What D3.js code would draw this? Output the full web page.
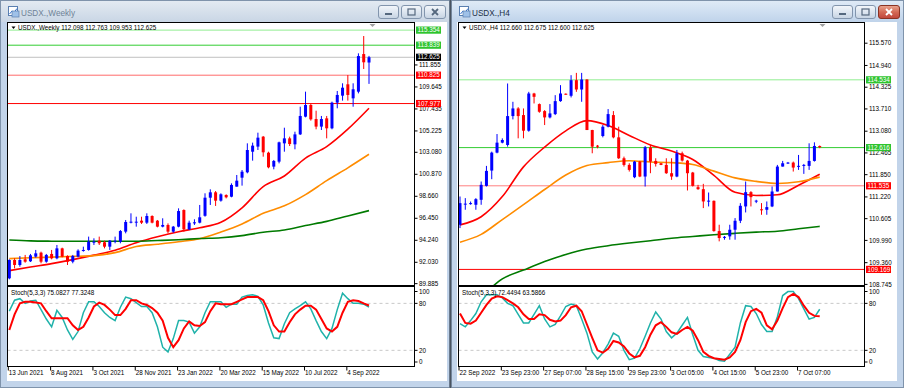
<!DOCTYPE html>
<html><head><meta charset="utf-8">
<script src="https://cdn.jsdelivr.net/npm/d3@7/dist/d3.min.js"></script>
<style>
html,body{margin:0;padding:0;background:#c7d6e8;overflow:hidden;}
svg text{font-family:"Liberation Sans",Arial,"DejaVu Sans",sans-serif;}
</style></head>
<body><svg id="c" width="904" height="388"></svg>
<script>
// ================= DATA: Weekly =================
const wTitle = "USDX.,Weekly";
const wHeader = "USDX.,Weekly  112.098 112.763 109.953 112.625";
const wStochHeader = "Stoch(5,3,3) 75.0827 77.3248";
const wTimeLabels = ["13 Jun 2021","8 Aug 2021","3 Oct 2021","28 Nov 2021","23 Jan 2022","20 Mar 2022","15 May 2022","10 Jul 2022","4 Sep 2022"];
const wOpen  = [90.42,92.26,91.76,92.33,92.13,92.60,93.00,92.09,92.87,92.43,93.43,92.66,92.09,92.60,93.20,93.27,94.05,94.20,94.04,93.60,94.15,94.10,95.11,96.05,96.08,96.21,96.01,96.68,96.21,95.61,95.78,95.11,95.61,97.28,95.34,95.94,96.01,96.70,98.52,99.06,98.22,98.79,98.62,99.63,100.53,101.07,103.14,103.65,104.65,103.04,101.64,102.14,103.98,104.48,103.88,104.88,106.66,107.83,106.42,105.66,106.49,105.49,108.07,108.77,109.91,108.50,109.17,112.95,112.098];
const wHigh  = [92.33,92.43,92.66,92.77,92.87,93.27,93.10,92.87,93.27,93.77,93.50,92.73,92.77,93.33,93.60,94.61,94.44,94.61,94.20,94.27,94.61,95.27,96.28,96.95,96.61,96.61,96.95,96.75,96.28,96.45,95.94,95.68,97.45,97.35,96.21,96.35,97.79,98.96,99.36,99.19,98.96,98.86,99.96,100.80,101.30,103.98,104.05,105.05,104.72,103.14,102.31,104.15,105.55,104.65,105.15,107.66,109.17,107.93,107.26,106.73,106.73,108.17,109.24,110.01,110.84,110.01,113.02,114.76,112.763];
const wLow   = [90.32,91.42,91.59,91.99,92.06,92.50,91.93,91.99,92.33,92.33,92.53,91.76,91.93,92.53,93.10,93.20,93.77,93.77,93.43,93.27,93.94,93.94,94.94,95.94,95.61,95.88,95.88,95.94,95.54,95.54,94.94,95.00,95.54,95.11,95.27,95.78,95.94,96.61,97.79,97.69,98.12,98.45,98.56,99.63,99.73,100.97,102.24,103.31,102.64,101.47,101.37,101.97,103.14,103.71,103.38,104.82,106.59,106.26,105.39,105.32,104.48,105.39,107.50,108.27,108.27,107.66,109.00,111.45,109.953];
const wClose = [92.26,91.76,92.26,92.09,92.73,92.93,92.09,92.77,92.43,93.43,92.60,92.09,92.66,93.20,93.27,94.10,94.10,93.94,93.60,94.20,94.20,95.17,96.08,96.11,96.11,96.01,96.68,96.01,95.61,95.78,95.11,95.61,97.18,95.34,96.01,96.05,96.55,98.52,99.06,98.22,98.86,98.56,99.80,100.23,101.13,103.31,103.75,104.55,103.08,101.57,102.21,104.08,104.48,103.91,104.88,106.73,107.83,106.39,105.66,106.42,105.49,108.07,108.84,109.57,108.84,109.41,112.75,112.12,112.625];
// moving averages read every 4 bars
const wMaIndex  = [0,4,8,12,16,20,24,28,32,36,40,44,48,52,56,60,64,68];
const wMaFast   = [91.19,91.55,91.90,92.30,92.75,93.25,94.00,94.60,95.10,95.50,96.05,97.50,99.63,100.70,102.50,103.65,105.40,107.50];
const wMaMid    = [92.40,92.48,92.55,92.62,92.70,93.00,93.62,93.85,94.10,94.40,95.07,95.88,96.95,97.70,98.83,100.23,101.52,102.88];
const wMaSlow   = [94.27,94.18,94.15,94.14,94.14,94.14,94.15,94.22,94.30,94.42,94.50,94.71,95.05,95.28,95.72,96.14,96.69,97.22];
const wStochK = [70,84,86,80,83,84,72,60,50,71,62,46,34,44,68,82,82,76,68,62,58,75,88,86,81,76,76,68,50,24,18,35,58,58,56,42,50,68,82,82,82,75,79,79,88,90,91,89,78,55,36,35,54,68,73,77,82,73,58,44,35,48,72,93,86,80,80,79,75.08];
const wStochD = [46,66,80,82,82,81,80,70,61,61,61,61,52,46,50,62,76,81,78,72,65,65,73,84,84,80,78,74,68,58,36,24,33,48,57,52,51,56,70,80,79,79,79,82,85,88,88,88,84,70,52,44,44,56,66,72,77,77,72,60,48,44,50,68,82,84,83,80,77.32];
const wPriceTicks = [111.855,109.645,107.435,105.225,103.080,100.870,98.660,96.450,94.240,92.030,89.885];
const wLevels = [115.354,113.839,112.625,110.825,107.977];

// ================= DATA: H4 =================
const hTitle = "USDX.,H4";
const hHeader = "USDX.,H4  112.660 112.675 112.600 112.625";
const hStochHeader = "Stoch(5,3,3) 72.4494 63.5866";
const hTimeLabels = ["22 Sep 2022","23 Sep 23:00","27 Sep 07:00","28 Sep 15:00","29 Sep 23:00","3 Oct 05:00","4 Oct 15:00","5 Oct 23:00","7 Oct 07:00"];
const hOpen  = [110.433,111.02,111.03,110.998,111.139,111.533,111.966,112.474,112.756,112.69,113.508,113.724,113.536,113.094,114.147,113.847,113.649,113.470,113.564,113.931,114.14,114.082,114.524,114.260,114.542,113.113,112.67,112.944,113.207,113.536,112.906,112.314,112.126,111.778,112.220,111.797,112.624,112.239,112.173,112.126,111.891,111.797,112.455,112.248,111.910,111.496,111.440,111.10,111.110,110.254,110.075,110.104,110.292,110.546,110.951,111.355,111.10,110.87,110.857,110.951,111.374,112.079,112.18,112.192,112.09,112.12,112.098,112.239,112.660];
const hHigh  = [111.232,111.186,111.09,111.186,111.656,112.098,112.502,113.000,112.878,114.43,113.912,113.76,113.724,114.194,114.166,113.865,113.677,113.847,114.100,114.383,114.15,114.665,114.730,114.730,114.55,113.12,112.69,113.254,113.706,113.649,113.207,112.361,112.173,112.239,112.24,112.662,112.690,112.314,112.18,112.314,112.314,112.549,112.502,112.267,111.928,111.562,111.590,111.345,111.12,110.433,110.114,110.433,110.621,111.045,111.656,111.383,111.139,111.045,111.092,111.515,112.126,112.239,112.21,112.220,112.408,112.154,112.737,112.765,112.675];
const hLow   = [110.339,110.857,111.0,110.857,110.998,111.515,111.722,112.455,112.737,112.643,113.414,112.878,112.878,113.066,113.865,113.602,113.254,113.442,113.536,113.912,114.11,114.035,114.194,113.912,113.113,112.455,112.596,112.906,113.188,112.878,112.295,112.079,111.938,111.750,111.78,111.515,111.891,112.079,112.12,111.872,111.703,111.778,112.220,111.402,111.515,111.421,110.904,110.951,110.236,109.963,110.010,110.010,110.010,110.480,110.781,110.951,111.045,110.715,110.715,110.932,111.374,112.079,112.154,111.938,111.985,111.872,111.985,112.220,112.600];
const hClose = [111.045,111.03,111.045,111.157,111.562,111.957,112.474,112.756,112.831,113.508,113.724,113.508,113.094,114.147,114.053,113.630,113.470,113.583,113.931,114.147,114.13,114.524,114.260,114.542,113.113,112.643,112.65,113.207,113.564,112.906,112.314,112.126,111.985,112.220,111.797,112.624,112.220,112.154,112.126,111.891,111.797,112.455,112.248,111.891,111.533,111.440,111.092,111.115,110.254,110.057,110.09,110.292,110.546,110.969,111.355,111.214,111.115,110.85,110.932,111.374,112.079,112.173,112.192,112.051,112.10,112.126,112.239,112.662,112.625];
const hMaIndex = [0,4,8,12,16,20,24,28,32,36,40,44,48,52,56,60,64,68];
const hMaFast  = [110.43,110.66,111.23,112.07,112.63,113.09,113.38,113.24,112.96,112.69,112.52,112.28,111.83,111.35,111.26,111.28,111.55,111.86];
const hMaMid   = [109.94,110.16,110.58,111.00,111.43,111.84,112.11,112.19,112.245,112.21,112.19,112.14,111.95,111.76,111.66,111.60,111.65,111.78];
const hMaSlow  = [107.90,108.40,108.90,109.15,109.39,109.59,109.745,109.84,109.915,109.98,110.05,110.10,110.15,110.19,110.225,110.25,110.32,110.386];
const hStochK = [54,50,58,67,82,91,91,91,87,80,77,66,55,55,66,77,60,50,53,64,76,79,77,60,42,18,9,17,28,42,38,20,8,10,22,38,55,69,60,44,36,42,52,62,40,20,12,11,10,7,6,15,24,55,77,76,67,53,44,44,63,90,95,95,86,73,60,62,72.45];
const hStochD = [67,55,54,58,68,78,86,89,88,84,80,75,66,60,60,66,65,59,57,58,65,75,77,70,53,36,20,17,22,32,30,25,16,11,13,24,40,52,56,50,43,41,46,50,45,33,18,13,10,9,8,11,18,33,56,70,73,68,52,47,58,74,88,92,88,77,68,64,63.59];
const hPriceTicks = [115.570,114.940,114.325,113.710,113.080,112.465,111.850,111.220,110.605,109.990,109.360,108.745];
const hLevels = [114.534,112.616,111.535,109.169];

const stochTicks = [100,80,20,0];
const stochLevels = [80,20];

// ================= STYLES =================
const BULL = "#0000ff", BEAR = "#ff0000";
const MA_COLORS = ["#ff0000","#ff8c00","#007a00"];
const K_COLOR = "#20b2aa", D_COLOR = "#ff0000";
const wLevelStyle = [
  {line:"#90ee90", bg:"#2ec42e"},
  {line:"#32cd32", bg:"#2ec42e"},
  {line:"#c0c0c0", bg:"#000000"},
  {line:"#ff6a6a", bg:"#ff0000"},
  {line:"#ff0000", bg:"#ff0000"}
];
const hLevelStyle = [
  {line:"#90ee90", bg:"#2ec42e"},
  {line:"#32cd32", bg:"#2ec42e"},
  {line:"#ff8080", bg:"#ff0000"},
  {line:"#ff0000", bg:"#ff0000"}
];

const svg = d3.select("#c");
const defs = svg.append("defs");
function grad(id, stops){
  const g = defs.append("linearGradient").attr("id", id).attr("x1",0).attr("y1",0).attr("x2",0).attr("y2",1);
  stops.forEach(s => g.append("stop").attr("offset", s[0]).attr("stop-color", s[1]));
}
grad("tbActive", [[0,"#dfeaf6"],[0.5,"#cfdff1"],[1,"#bfd3ea"]]);
grad("tbInactive", [[0,"#e3eaf2"],[0.5,"#d6e0eb"],[1,"#c9d6e5"]]);
grad("btn", [[0,"#f4f7fb"],[0.5,"#dde6f0"],[1,"#c6d3e2"]]);
grad("btnClose", [[0,"#eaa792"],[0.5,"#d46a55"],[1,"#c0453a"]]);

svg.append("rect").attr("width",904).attr("height",388).attr("fill","#c3d4e8");

function drawChrome(x0, x1, active, title){
  const g = svg.append("g");
  g.append("rect").attr("x",x0+0.5).attr("y",0.5).attr("width",x1-x0-1).attr("height",387)
    .attr("fill","#c2d4ea").attr("stroke","#7f93ab");
  g.append("rect").attr("x",x0+1).attr("y",1).attr("width",x1-x0-2).attr("height",21)
    .attr("fill", active ? "url(#tbActive)" : "url(#tbInactive)");
  // icon
  g.append("rect").attr("x",x0+8.5).attr("y",6.5).attr("width",9).attr("height",9).attr("fill","#ffffff").attr("stroke","#5a7fb0");
  g.append("path").attr("d",`M${x0+9.5},${14} L${x0+12},${11} L${x0+14},${12.5} L${x0+17},${8.5}`).attr("fill","none").attr("stroke","#2f6fd0").attr("stroke-width",1);
  g.append("rect").attr("x",x0+12).attr("y",11).attr("width",7).attr("height",6).attr("fill","#9fc1e8").attr("stroke","#5a7fb0").attr("stroke-width",0.7);
  g.append("text").attr("x",x0+21).attr("y",15.5).attr("font-size",8.2)
    .attr("fill", active ? "#1c2f47" : "#6f8397").text(title);
  // buttons
  const bx = [x1-72, x1-49, x1-26];
  bx.forEach((b,k)=>{
    const isClose = k===2;
    g.append("rect").attr("x",b+0.5).attr("y",5.5).attr("width", isClose?21:20).attr("height",13).attr("rx",2.5)
      .attr("fill", (isClose && active) ? "url(#btnClose)" : "url(#btn)")
      .attr("stroke", (isClose && active) ? "#8a3323" : "#8295ad");
    const cx = b + (isClose?11:10.5), cy = 12;
    if(k===0){
      g.append("rect").attr("x",cx-3.5).attr("y",cy+1).attr("width",7).attr("height",2).attr("fill","#55687e");
    } else if(k===1){
      g.append("rect").attr("x",cx-3.5).attr("y",cy-3).attr("width",7).attr("height",6).attr("fill","none").attr("stroke","#55687e").attr("stroke-width",1.2);
    } else {
      const col = active ? "#ffffff" : "#55687e";
      g.append("path").attr("d",`M${cx-3},${cy-3} L${cx+3},${cy+3} M${cx+3},${cy-3} L${cx-3},${cy+3}`)
        .attr("stroke",col).attr("stroke-width",1.8);
    }
  });
  return g;
}

function drawChart(cfg){
  const g = svg.append("g");
  const {clientL, clientR, plotL, plotR, top, mainB, stTop, stB} = cfg;
  // client area
  g.append("rect").attr("x",clientL).attr("y",22).attr("width",clientR-clientL).attr("height",359).attr("fill","#ffffff");
  const xs = d3.scaleLinear().domain([0,68]).range(cfg.xRange);
  const ys = d3.scaleLinear().domain(cfg.yDomain).range(cfg.yRange);
  const ss = d3.scaleLinear().domain([0,100]).range([stB-0.5, stTop+1.2]);

  const clipM = cfg.id+"m", clipS = cfg.id+"s";
  defs.append("clipPath").attr("id",clipM).append("rect").attr("x",plotL).attr("y",top).attr("width",plotR-plotL).attr("height",mainB-top);
  defs.append("clipPath").attr("id",clipS).append("rect").attr("x",plotL).attr("y",stTop).attr("width",plotR-plotL).attr("height",stB-stTop);

  const gm = g.append("g").attr("clip-path",`url(#${clipM})`);
  // horizontal level lines
  cfg.levels.forEach((v,k)=>{
    gm.append("line").attr("x1",plotL).attr("x2",plotR).attr("y1",ys(v)).attr("y2",ys(v))
      .attr("stroke",cfg.levelStyle[k].line).attr("stroke-width",1);
  });
  // moving averages
  const line = d3.line().x(d=>xs(d[0])).y(d=>ys(d[1])).curve(d3.curveMonotoneX);
  cfg.mas.forEach((ma,k)=>{
    gm.append("path").attr("d", line(cfg.maIndex.map((ix,j)=>[ix, ma[j]])))
      .attr("fill","none").attr("stroke",MA_COLORS[k]).attr("stroke-width",1.6);
  });
  // candles
  const idx = d3.range(cfg.open.length);
  gm.selectAll(".wick").data(idx).join("line")
    .attr("x1",i=>xs(i)).attr("x2",i=>xs(i))
    .attr("y1",i=>ys(cfg.high[i])).attr("y2",i=>ys(cfg.low[i]))
    .attr("stroke",i=>cfg.close[i]>=cfg.open[i]?BULL:BEAR).attr("stroke-width",1);
  gm.selectAll(".body").data(idx).join("rect")
    .attr("x",i=>xs(i)-1.5).attr("width",3)
    .attr("y",i=>ys(Math.max(cfg.open[i],cfg.close[i])))
    .attr("height",i=>Math.max(1, ys(Math.min(cfg.open[i],cfg.close[i])) - ys(Math.max(cfg.open[i],cfg.close[i]))))
    .attr("fill",i=>cfg.close[i]>=cfg.open[i]?BULL:BEAR);

  // stochastic pane
  const gs = g.append("g").attr("clip-path",`url(#${clipS})`);
  stochLevels.forEach(v=>{
    gs.append("line").attr("x1",plotL).attr("x2",plotR).attr("y1",ss(v)).attr("y2",ss(v))
      .attr("stroke","#c8c8c8").attr("stroke-dasharray","3,3").attr("stroke-width",1);
  });
  const sl = d3.line().x((d,i)=>xs(i)).y(d=>ss(d));
  gs.append("path").attr("d",sl(cfg.stK)).attr("fill","none").attr("stroke",K_COLOR).attr("stroke-width",1.5);
  gs.append("path").attr("d",sl(cfg.stD)).attr("fill","none").attr("stroke",D_COLOR).attr("stroke-width",2);

  // frames
  g.append("rect").attr("x",plotL).attr("y",top).attr("width",plotR-plotL).attr("height",mainB-top)
    .attr("fill","none").attr("stroke","#000").attr("stroke-width",1);
  g.append("rect").attr("x",plotL).attr("y",stTop).attr("width",plotR-plotL).attr("height",stB-stTop)
    .attr("fill","none").attr("stroke","#000").attr("stroke-width",1);

  // chart shift marker
  const mx = cfg.markerX;
  g.append("path").attr("d",`M${mx-3},${top+1.5} L${mx+3},${top+1.5} L${mx},${top+4.5} Z`).attr("fill","#a0a0a0");

  // header texts
  g.append("path").attr("d",`M${plotL+4},${top+4} L${plotL+8},${top+4} L${plotL+6},${top+6.5} Z`).attr("fill","#000");
  g.append("text").attr("x",plotL+10.5).attr("y",top+7.3).attr("font-size",6.3).attr("fill","#000").text(cfg.header);
  g.append("text").attr("x",plotL+3.5).attr("y",stTop+8.3).attr("font-size",6.3).attr("fill","#000").text(cfg.stochHeader);

  // price axis
  cfg.priceTicks.forEach(v=>{
    const y = ys(v);
    g.append("line").attr("x1",plotR).attr("x2",plotR+3).attr("y1",y).attr("y2",y).attr("stroke","#000");
    g.append("text").attr("x",plotR+4.5).attr("y",y+2.2).attr("font-size",6.3).attr("fill","#000").text(v.toFixed(3));
  });
  cfg.levels.forEach((v,k)=>{
    const y = ys(v);
    g.append("rect").attr("x",plotR+1.5).attr("y",y-3.6).attr("width",25).attr("height",7.2).attr("fill",cfg.levelStyle[k].bg);
    g.append("text").attr("x",plotR+3).attr("y",y+2.2).attr("font-size",6.3).attr("fill","#fff").text(v.toFixed(3));
  });
  // stochastic axis
  stochTicks.forEach(v=>{
    let y = ss(v);
    y = Math.max(stTop+5, Math.min(stB-4.5, y));
    g.append("line").attr("x1",plotR).attr("x2",plotR+3).attr("y1",y).attr("y2",y).attr("stroke","#000");
    g.append("text").attr("x",plotR+4.5).attr("y",y+2.2).attr("font-size",6.3).attr("fill","#000").text(v);
  });
  // time axis
  cfg.timeLabels.forEach((t,k)=>{
    const x = xs(k*8)-1;
    g.append("line").attr("x1",x).attr("x2",x).attr("y1",stB).attr("y2",stB+4).attr("stroke","#000");
    g.append("text").attr("x",x+0.5).attr("y",stB+8.3).attr("font-size",6.3).attr("fill","#000").text(t);
  });
}

drawChrome(0, 450, false, wTitle);
drawChrome(451, 904, true, hTitle);
svg.append("rect").attr("x",449.6).attr("y",0).attr("width",1.6).attr("height",388).attr("fill","#4a5460");

drawChart({
  id:"w", clientL:7, clientR:447, plotL:7.5, plotR:414.5, top:22.5, mainB:285.5, stTop:286.5, stB:366.5,
  xRange:[9.3,369.0], yDomain:[89.885,115.354], yRange:[283.65,30.11], markerX:372.5,
  header:wHeader, stochHeader:wStochHeader,
  open:wOpen, high:wHigh, low:wLow, close:wClose,
  maIndex:wMaIndex, mas:[wMaFast,wMaMid,wMaSlow],
  stK:wStochK, stD:wStochD, priceTicks:wPriceTicks, levels:wLevels, levelStyle:wLevelStyle,
  timeLabels:wTimeLabels
});
drawChart({
  id:"h", clientL:457, clientR:897, plotL:458.5, plotR:864.5, top:22.5, mainB:285.5, stTop:286.5, stB:366.5,
  xRange:[460,819.7], yDomain:[108.745,115.570], yRange:[284.4,43.2], markerX:822.5,
  header:hHeader, stochHeader:hStochHeader,
  open:hOpen, high:hHigh, low:hLow, close:hClose,
  maIndex:hMaIndex, mas:[hMaFast,hMaMid,hMaSlow],
  stK:hStochK, stD:hStochD, priceTicks:hPriceTicks, levels:hLevels, levelStyle:hLevelStyle,
  timeLabels:hTimeLabels
});
</script>
</body></html>
